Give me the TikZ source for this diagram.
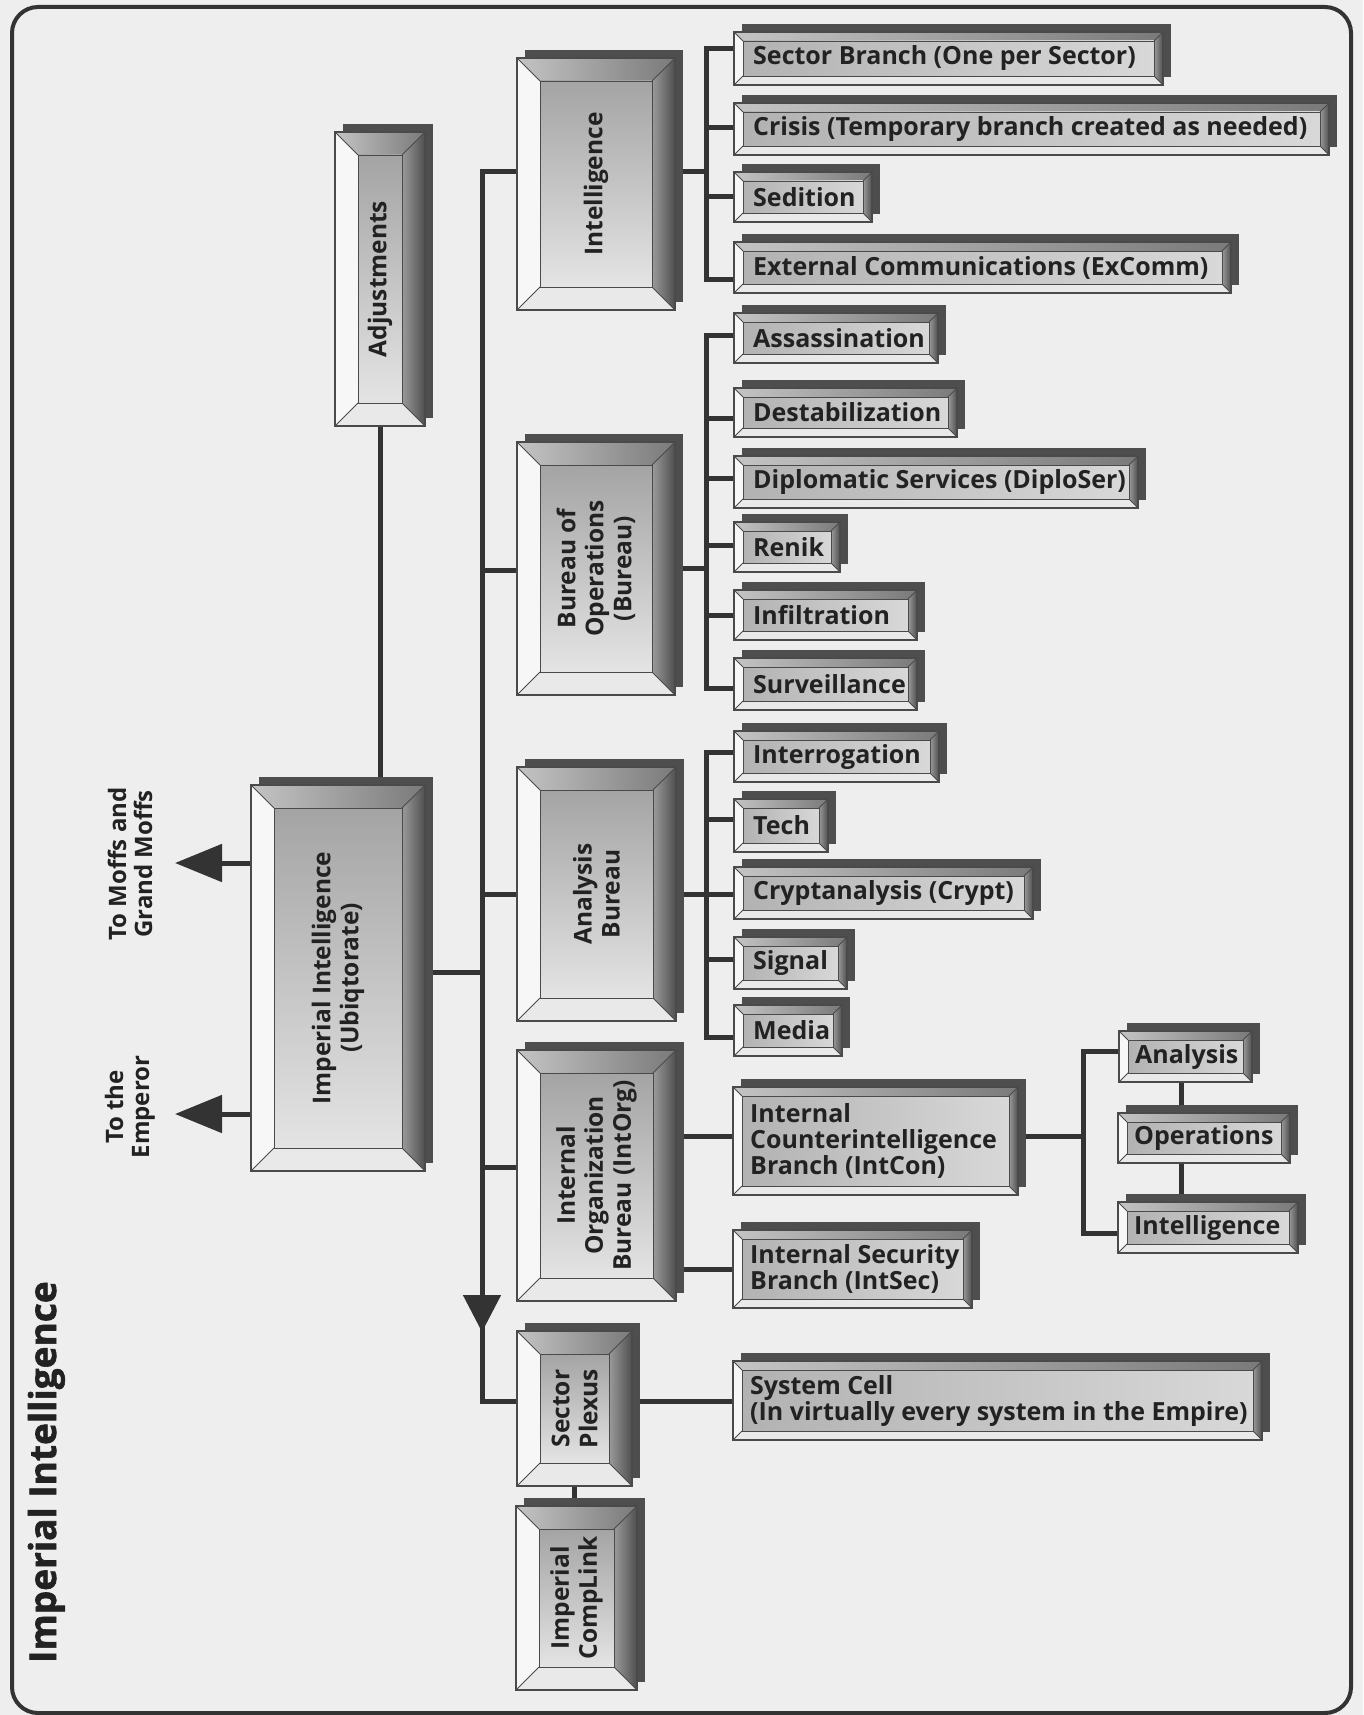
\documentclass[tikz,border=0pt]{standalone}
\usepackage{fontspec}
\setmainfont{Open Sans}
\newfontfamily\heavyfont[FakeBold=1.6]{Open Sans}
\usetikzlibrary{arrows.meta}
\definecolor{bgc}{HTML}{EEEEEE}
\definecolor{ink}{HTML}{222222}
\definecolor{linec}{HTML}{333333}
\definecolor{shadowc}{HTML}{4E4E4E}
\definecolor{edgec}{HTML}{4A4A4A}
\definecolor{topL}{HTML}{C4C4C4}
\definecolor{topR}{HTML}{7A7A7A}
\definecolor{rgtL}{HTML}{9A9A9A}
\definecolor{rgtR}{HTML}{4F4F4F}
\definecolor{lftc}{HTML}{F7F7F7}
\definecolor{botc}{HTML}{E9E9E9}
\definecolor{faceT}{HTML}{A4A4A4}
\definecolor{faceB}{HTML}{E4E4E4}
\definecolor{hfL}{HTML}{B2B2B2}
\definecolor{hfR}{HTML}{D8D8D8}
\pgfdeclarelayer{back}
\pgfdeclarelayer{wires}
\pgfsetlayers{back,wires,main}
\tikzset{
  conn/.style={draw=linec, line width=5pt, line join=miter},
  vface/.style={top color=faceT, bottom color=faceB},
  hface/.style={left color=hfL, right color=hfR},
  hold/.style={shape=rectangle, inner sep=0pt, outer sep=0pt, draw=none},
  vtext/.style={rotate=90, align=center, inner sep=0pt, text=ink,
    font=\bfseries\fontsize{24.5}{28}\selectfont},
  htext/.style={anchor=west, align=left, inner sep=0pt, text=ink,
    font=\bfseries\fontsize{25}{26}\selectfont},
  lbl/.style={rotate=90, align=center, inner sep=0pt, text=ink,
    font=\bfseries\fontsize{24}{26}\selectfont},
  bigtip/.style={-{Triangle[width=37pt,length=47pt]}},
}
% #1 x1 #2 y1 #3 x2 #4 y2 #5 bevel #6 face style
\newcommand\bevframe[6]{%
  \fill[shadowc] ({#1+8},{#2-8}) rectangle ({#3+8},{#4-8});
  \shade[left color=topL, right color=topR] (#1,#2) -- (#3,#2) -- ({#3-#5},{#2+#5}) -- ({#1+#5},{#2+#5}) -- cycle;
  \shade[left color=rgtL, right color=rgtR] (#3,#2) -- (#3,#4) -- ({#3-#5},{#4-#5}) -- ({#3-#5},{#2+#5}) -- cycle;
  \fill[botc] (#1,#4) -- (#3,#4) -- ({#3-#5},{#4-#5}) -- ({#1+#5},{#4-#5}) -- cycle;
  \fill[lftc] (#1,#2) -- ({#1+#5},{#2+#5}) -- ({#1+#5},{#4-#5}) -- (#1,#4) -- cycle;
  \shade[#6] ({#1+#5},{#2+#5}) rectangle ({#3-#5},{#4-#5});
  \draw[edgec, line width=1.1pt] (#1,#2) rectangle (#3,#4);
  \draw[edgec, line width=0.8pt] ({#1+#5},{#2+#5}) rectangle ({#3-#5},{#4-#5});
  \draw[edgec, line width=0.8pt] (#1,#2) -- ({#1+#5},{#2+#5}) (#3,#2) -- ({#3-#5},{#2+#5})
     (#3,#4) -- ({#3-#5},{#4-#5}) (#1,#4) -- ({#1+#5},{#4-#5});
}
% vertical (bureau) box: name x1 y1 x2 y2 text
\newcommand\vnode[6]{%
  \bevframe{#2}{#3}{#4}{#5}{23}{vface}
  \pgfmathsetmacro\bw{#4-#2}\pgfmathsetmacro\bh{#5-#3}
  \node[hold, minimum width=\bw pt, minimum height=\bh pt] (#1) at ({(#2+#4)/2},{(#3+#5)/2}) {};
  \node[vtext] (#1-t) at (#1.center) {#6};
}
% horizontal (branch) box: name x1 y1 x2 y2 text x-offset
\newcommand\hnode[7]{%
  \bevframe{#2}{#3}{#4}{#5}{9}{hface}
  \pgfmathsetmacro\bw{#4-#2}\pgfmathsetmacro\bh{#5-#3}
  \node[hold, minimum width=\bw pt, minimum height=\bh pt] (#1) at ({(#2+#4)/2},{(#3+#5)/2}) {};
  \node[htext] (#1-t) at ({#2+#7},{(#3+#5)/2}) {#6};
}
\begin{document}
\begin{tikzpicture}[x=1pt,y=-1pt]
\useasboundingbox (0,0) rectangle (1363,1715);
\begin{pgfonlayer}{back}
\fill[bgc] (0,0) rectangle (1363,1715);
\end{pgfonlayer}
\draw[linec, line width=4pt, rounded corners=26pt] (12,7) rectangle (1351,1713);

% title
\node[rotate=90, anchor=base, inner sep=0pt, text=ink, font=\heavyfont\bfseries\fontsize{37}{42}\selectfont] (title) at (56,1472) {Imperial Intelligence};

% left column
\vnode{adj}{335}{132}{425}{426}{Adjustments}
\vnode{ii}{251}{785}{425}{1171}{Imperial Intelligence\\(Ubiqtorate)}
\vnode{intel}{517}{58}{675}{310}{Intelligence}
\vnode{ops}{517}{442}{675}{695}{Bureau of\\Operations\\(Bureau)}
\vnode{anb}{517}{767}{676}{1021}{Analysis\\Bureau}
\vnode{iob}{517}{1050}{676}{1301}{Internal\\Organization\\Bureau (IntOrg)}
\vnode{sp}{517}{1331}{632}{1486}{Sector\\Plexus}
\vnode{icl}{516}{1506}{637}{1690}{Imperial\\CompLink}

% arrow labels
\node[lbl] (moffs) at (130,864) {To Moffs and\\Grand Moffs};
\node[lbl] (emp) at (130,1107) {To the\\Emperor};

% branches of Intelligence
\hnode{sb}{734}{32}{1163}{85}{Sector Branch (One per Sector)}{19}
\hnode{cr}{734}{103}{1329}{155}{Crisis (Temporary branch created as needed)}{19}
\hnode{sed}{734}{172}{872}{222}{Sedition}{19}
\hnode{exc}{734}{242}{1231}{293}{External Communications (ExComm)}{19}
% branches of Bureau of Operations
\hnode{ass}{734}{313}{938}{363}{Assassination}{19}
\hnode{des}{734}{388}{957}{437}{Destabilization}{19}
\hnode{dip}{734}{456}{1138}{508}{Diplomatic Services (DiploSer)}{19}
\hnode{ren}{734}{522}{840}{572}{Renik}{19}
\hnode{inf}{734}{590}{917}{640}{Infiltration}{19}
\hnode{sur}{734}{658}{917}{710}{Surveillance}{19}
% branches of Analysis Bureau
\hnode{intr}{734}{731}{939}{782}{Interrogation}{19}
\hnode{tech}{734}{799}{828}{852}{Tech}{19}
\hnode{cry}{734}{867}{1033}{919}{Cryptanalysis (Crypt)}{19}
\hnode{sig}{734}{937}{847}{989}{Signal}{19}
\hnode{med}{734}{1005}{842}{1056}{Media}{19}
% Internal Organization
\hnode{icb}{733}{1087}{1018}{1195}{Internal\\Counterintelligence\\Branch (IntCon)}{17}
\hnode{isb}{733}{1230}{972}{1308}{Internal Security\\Branch (IntSec)}{17}
\hnode{sc}{733}{1361}{1262}{1440}{System Cell\\(In virtually every system in the Empire)}{17}
% IntCon sub-branches
\hnode{an2}{1119}{1031}{1252}{1082}{Analysis}{16}
\hnode{op2}{1118}{1113}{1290}{1163}{Operations}{16}
\hnode{in2}{1118}{1202}{1298}{1253}{Intelligence}{16}

% connector coordinates
\coordinate (bA) at (482,172);
\coordinate (bB) at (482,570);
\coordinate (bC) at (482,894);
\coordinate (bD) at (482,972);
\coordinate (bE) at (482,1167);
\coordinate (bF) at (482,1332);
\coordinate (bF2) at (482,1322);
\coordinate (bG) at (482,1401);
\coordinate (tipm) at (175,863);
\coordinate (tipe) at (175,1114);
\coordinate (s1a) at (706,49);
\coordinate (s1b) at (706,128);
\coordinate (s1c) at (706,172);
\coordinate (s1d) at (706,197);
\coordinate (s1e) at (706,279);
\coordinate (s2a) at (706,335);
\coordinate (s2b) at (706,418);
\coordinate (s2c) at (706,478);
\coordinate (s2d) at (706,545);
\coordinate (s2o) at (706,568);
\coordinate (s2e) at (706,615);
\coordinate (s2f) at (706,688);
\coordinate (s3a) at (706,752);
\coordinate (s3b) at (706,819);
\coordinate (s3c) at (706,894);
\coordinate (s3d) at (706,959);
\coordinate (s3e) at (706,1037);
\coordinate (i1) at (706,1136);
\coordinate (i2) at (706,1269);
\coordinate (t1) at (1083,1051);
\coordinate (t2) at (1083,1136);
\coordinate (t3) at (1083,1233);
\coordinate (lk) at (1181,1150);

\begin{pgfonlayer}{wires}
% main bus
\draw[conn, -{Triangle[width=37pt,length=37pt]}] (intel.west |- bA) -- (bA) -- (bF);
\draw[conn] (bF2) -- (bG) -- (sp.west |- bG);
\draw[conn] (bB) -- (ops.west |- bB);
\draw[conn] (bC) -- (anb.west |- bC);
\draw[conn] (ii.east |- bD) -- (bD);
\draw[conn] (bE) -- (iob.west |- bE);
\draw[conn] (adj.south) -- (adj.south |- ii.north);
% outward arrows
\draw[conn, bigtip] (ii.west |- tipm) -- (tipm);
\draw[conn, bigtip] (ii.west |- tipe) -- (tipe);
% Intelligence sub-bus
\draw[conn] (sb.west |- s1a) -- (s1a) -- (s1e) -- (exc.west |- s1e);
\draw[conn] (s1b) -- (cr.west |- s1b);
\draw[conn] (intel.east |- s1c) -- (s1c);
\draw[conn] (s1d) -- (sed.west |- s1d);
% Operations sub-bus
\draw[conn] (ass.west |- s2a) -- (s2a) -- (s2f) -- (sur.west |- s2f);
\draw[conn] (s2b) -- (des.west |- s2b);
\draw[conn] (s2c) -- (dip.west |- s2c);
\draw[conn] (s2d) -- (ren.west |- s2d);
\draw[conn] (ops.east |- s2o) -- (s2o);
\draw[conn] (s2e) -- (inf.west |- s2e);
% Analysis sub-bus
\draw[conn] (intr.west |- s3a) -- (s3a) -- (s3e) -- (med.west |- s3e);
\draw[conn] (s3b) -- (tech.west |- s3b);
\draw[conn] (anb.east |- s3c) -- (cry.west |- s3c);
\draw[conn] (s3d) -- (sig.west |- s3d);
% Internal Organization
\draw[conn] (iob.east |- i1) -- (icb.west |- i1);
\draw[conn] (iob.east |- i2) -- (isb.west |- i2);
\draw[conn] (icb.east |- t2) -- (t2);
\draw[conn] (an2.west |- t1) -- (t1) -- (t3) -- (in2.west |- t3);
\draw[conn] (an2.south -| lk) -- (in2.north -| lk);
% Sector Plexus
\draw[conn] (sp.east |- bG) -- (sc.west |- bG);
\draw[conn] (sp.south) -- (sp.south |- icl.north);
\end{pgfonlayer}
\end{tikzpicture}
\end{document}
